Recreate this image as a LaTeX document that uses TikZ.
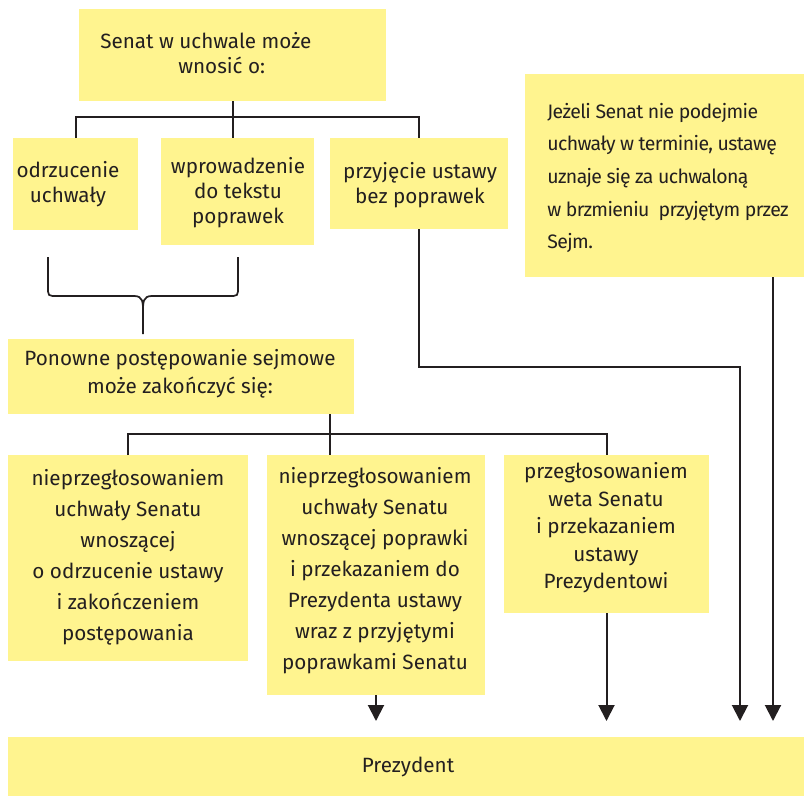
\documentclass[tikz,border=0pt]{standalone}
\usepackage{fontspec}
\setmainfont{Fira Sans}
\usetikzlibrary{arrows.meta}
\definecolor{boxy}{HTML}{FFF48F}
\definecolor{ink}{HTML}{231F20}
\newcommand\boxat[5]{\node[box,minimum width={(#4-#2)*0.75pt},minimum height={(#5-#3)*0.75pt}] (#1) at (#2,#3) {};}
\begin{document}
\begin{tikzpicture}[x=0.75pt,y=-0.75pt,
  box/.style={fill=boxy,draw=none,inner sep=0pt,outer sep=0pt,anchor=north west},
  txt/.style={align=center,inner sep=0pt,text=ink,font=\fontsize{15.5}{18.75}\selectfont},
  lowtxt/.style={txt,font=\fontsize{15.5}{23.25}\selectfont},
  ln/.style={draw=ink,line width=1.5pt},
  arr/.style={ln,-{Triangle[length=12pt,width=12pt]},shorten >=12pt}]
\useasboundingbox (0,0) rectangle (804,796);
% boxes
\boxat{top}{79}{9}{386}{101}
\boxat{odr}{13}{138}{138}{230}
\boxat{wpr}{161}{138}{314}{245}
\boxat{prz}{330}{138}{508}{229}
\boxat{jez}{525}{74}{804}{277}
\boxat{pon}{8}{339}{354}{414}
\boxat{na}{8}{455}{248}{661}
\boxat{nb}{267}{455}{485}{695}
\boxat{nc}{504}{455}{709}{613}
\boxat{prez}{8}{737}{804}{796}
% texts
\node[txt,align=left,anchor=west] (ttop) at (100,53) {Senat w uchwale może\\\hspace*{58.5pt}wnosić o:};
\node[txt] (todr) at (68,184) {odrzucenie\\uchwały};
\node[txt] (twpr) at (238,193) {wprowadzenie\\do tekstu\\poprawek};
\node[txt] (tprz) at (420,185) {przyjęcie ustawy\\bez poprawek};
\node[txt,align=left,anchor=west,font=\fontsize{14.6}{24.4}\selectfont\addfontfeatures{LetterSpace=-3}] (tjez) at (547,178)
  {Jeżeli Senat nie podejmie\\uchwały w terminie, ustawę\\uznaje się za uchwaloną\\w brzmieniu\ \ przyjętym przez\\Sejm.};
\node[txt,font=\fontsize{15.5}{21}\selectfont] (tpon) at (180,374) {Ponowne postępowanie sejmowe\\może zakończyć się:};
\node[lowtxt] (tna) at (128,557) {nieprzegłosowaniem\\uchwały Senatu\\wnoszącej\\o odrzucenie ustawy\\i zakończeniem\\postępowania};
\node[lowtxt] (tnb) at (375,571) {nieprzegłosowaniem\\uchwały Senatu\\wnoszącej poprawki\\i przekazaniem do\\Prezydenta ustawy\\wraz z przyjętymi\\poprawkami Senatu};
\node[lowtxt,font=\fontsize{15.5}{20.6}\selectfont] (tnc) at (606,528) {przegłosowaniem\\weta Senatu\\i przekazaniem\\ustawy\\Prezydentowi};
\node[txt] (tprez) at (408,767) {Prezydent};
% connectors top level
\draw[ln] (top.south) -- (top.south |- wpr.north);
\draw[ln] (odr.north) -- ++(0,-21) -| (prz.north);
% brace
\draw[ln,line width=1.3pt] (48,257) -- (48,287) .. controls (48,296) .. (57,296) -- (134,296)
  .. controls (143,296) and (143,302) .. (143,312) -- (143,334);
\draw[ln,line width=1.3pt] (238,257) -- (238,287) .. controls (238,296) .. (229,296) -- (152,296)
  .. controls (143,296) and (143,302) .. (143,312);
% przyjecie to Prezydent
\coordinate (c1) at (740,367);
\draw[arr] (prz.south) |- (c1) -- (c1 |- prez.north);
% Jezeli to Prezydent
\coordinate (j1) at (773,277);
\draw[arr] (j1) -- (j1 |- prez.north);
% Ponowne branching
\coordinate (p1) at (330,414);
\draw[ln] (p1) -- (p1 |- nb.north);
\draw[ln] (na.north) -- ++(0,-21) -| (nc.north);
% to Prezydent
\draw[arr] (nb.south) -- (nb.south |- prez.north);
\draw[arr] (nc.south) -- (nc.south |- prez.north);
\end{tikzpicture}
\end{document}
